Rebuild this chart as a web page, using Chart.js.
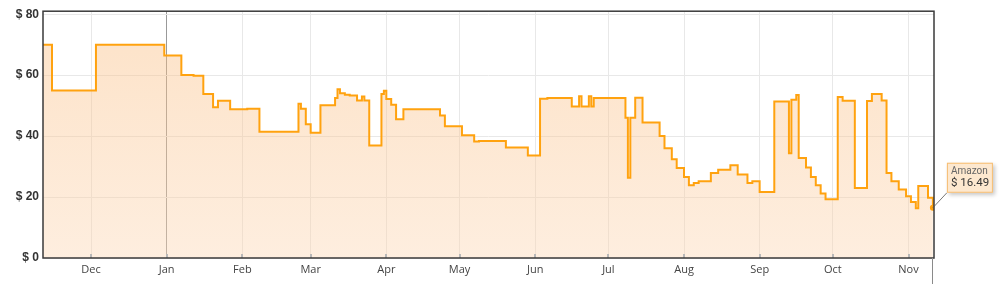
<!DOCTYPE html>
<html>
<head>
<meta charset="utf-8">
<script src="https://cdn.jsdelivr.net/npm/chart.js@4"></script>
<style>
  html, body { margin: 0; padding: 0; background: #fff; overflow: hidden; }
  #wrap { width: 1000px; height: 284px; position: relative; }
</style>
</head>
<body>
<div id="wrap"><canvas id="c"></canvas></div>
<script>
// ---- data ----
const priceDates = [
  '2022-11-11','2022-11-15','2022-12-03','2022-12-31',
  '2023-01-07','2023-01-12','2023-01-16','2023-01-20','2023-01-22','2023-01-27',
  '2023-02-03','2023-02-08','2023-02-24','2023-02-25','2023-02-27',
  '2023-03-01','2023-03-05','2023-03-11','2023-03-12','2023-03-13','2023-03-15','2023-03-17','2023-03-20','2023-03-22','2023-03-23','2023-03-25','2023-03-30','2023-03-31',
  '2023-04-01','2023-04-03','2023-04-05','2023-04-08','2023-04-23','2023-04-25',
  '2023-05-02','2023-05-07','2023-05-09','2023-05-20','2023-05-29',
  '2023-06-03','2023-06-06','2023-06-16','2023-06-19','2023-06-20','2023-06-23','2023-06-24','2023-06-25',
  '2023-07-08','2023-07-09','2023-07-10','2023-07-12','2023-07-15','2023-07-22','2023-07-24','2023-07-27','2023-07-29',
  '2023-08-01','2023-08-03','2023-08-05','2023-08-07','2023-08-12','2023-08-15','2023-08-20','2023-08-23','2023-08-27','2023-08-29',
  '2023-09-01','2023-09-07','2023-09-13','2023-09-14','2023-09-16','2023-09-17','2023-09-20','2023-09-22','2023-09-24','2023-09-26','2023-09-28',
  '2023-10-03','2023-10-05','2023-10-10','2023-10-15','2023-10-17','2023-10-21','2023-10-23','2023-10-25','2023-10-28','2023-10-31',
  '2023-11-02','2023-11-04','2023-11-05','2023-11-09','2023-11-11'
];
const amazonPrices = [
  69.99, 54.99, 69.99, 66.5,
  60.1, 59.8, 53.8, 49.5, 51.6, 48.8,
  49.0, 41.4, 50.6, 49.0, 43.9,
  41.1, 50.1, 52.5, 55.4, 54.1, 53.6, 53.3, 51.7, 53.0, 51.7, 36.9, 53.8, 54.9,
  52.2, 50.3, 45.5, 48.8, 46.8, 43.2,
  40.3, 38.2, 38.4, 36.3, 33.6,
  52.3, 52.5, 49.7, 53.1, 49.7, 53.1, 49.7, 52.5,
  46.0, 26.3, 46.0, 52.6, 44.5, 40.0, 36.0, 32.4, 29.5,
  26.6, 23.9, 24.6, 25.2, 27.9, 29.0, 30.4, 27.4, 24.6, 25.2,
  21.7, 51.4, 34.4, 51.9, 53.5, 32.8, 29.7, 26.6, 23.9, 21.2, 19.3,
  52.8, 51.6, 23.0, 51.5, 53.8, 51.7, 27.9, 25.2, 22.5, 20.3,
  18.4, 16.3, 23.6, 19.8, 16.49
];
const monthTickDates = ['2022-12-01','2023-01-01','2023-02-01','2023-03-01','2023-04-01','2023-05-01',
  '2023-06-01','2023-07-01','2023-08-01','2023-09-01','2023-10-01','2023-11-01'];
const monthTickLabels = ['Dec','Jan','Feb','Mar','Apr','May','Jun','Jul','Aug','Sep','Oct','Nov'];
const yTickValues = [0, 20, 40, 60, 80];
const seriesName = 'Amazon';
const yearStartDate = '2023-01-01';

// ---- helpers ----
const toDay = s => { const [y, m, d] = s.split('-').map(Number); return Date.UTC(y, m - 1, d) / 86400000; };
const monthDays = monthTickDates.map(toDay);
const yearDay = toDay(yearStartDate);
const points = priceDates.map((d, i) => ({ x: toDay(d), y: amazonPrices[i] }));
const lastIdx = points.length - 1;

const framePlugin = {
  id: 'frame',
  afterDatasetsDraw(chart) {
    const { ctx, chartArea: a, scales } = chart;
    ctx.save();
    ctx.strokeStyle = '#b8b8b8';
    ctx.lineWidth = 2;
    monthDays.forEach(v => {
      const x = Math.round(scales.x.getPixelForValue(v));
      ctx.beginPath(); ctx.moveTo(x, a.bottom - 4); ctx.lineTo(x, a.bottom); ctx.stroke();
    });
    ctx.strokeStyle = '#3a3a3a';
    ctx.lineWidth = 1.5;
    ctx.strokeRect(a.left, a.top, a.right - a.left, a.bottom - a.top);
    const pt = chart.getDatasetMeta(0).data[lastIdx];
    ctx.strokeStyle = '#8a8a8a';
    ctx.lineWidth = 1;
    ctx.beginPath(); ctx.moveTo(Math.round(pt.x) - 0.5, a.bottom); ctx.lineTo(Math.round(pt.x) - 0.5, chart.height); ctx.stroke();
    const bx = pt.x + 14, by = pt.y - 45, bw = 46, bh = 30;
    ctx.strokeStyle = '#555';
    ctx.lineWidth = 0.8;
    ctx.beginPath(); ctx.moveTo(pt.x, pt.y); ctx.lineTo(bx, by + bh); ctx.stroke();
    ctx.shadowColor = 'rgba(0,0,0,0.22)';
    ctx.shadowBlur = 4; ctx.shadowOffsetX = 2; ctx.shadowOffsetY = 2;
    ctx.fillStyle = '#fde8cf';
    ctx.fillRect(bx, by, bw, bh);
    ctx.shadowColor = 'transparent';
    ctx.strokeStyle = '#f6bd72';
    ctx.lineWidth = 1;
    ctx.strokeRect(bx + 0.5, by + 0.5, bw - 1, bh - 1);
    ctx.textBaseline = 'middle';
    ctx.textAlign = 'left';
    ctx.fillStyle = '#666';
    ctx.font = '10px Roboto, "DejaVu Sans", sans-serif';
    ctx.fillText(seriesName, bx + 4, by + 8.5);
    ctx.fillStyle = '#333';
    ctx.font = '11.5px Roboto, "DejaVu Sans", sans-serif';
    ctx.fillText('$ ' + amazonPrices[lastIdx].toFixed(2), bx + 4, by + 20.5);
    ctx.restore();
  }
};

new Chart(document.getElementById('c'), {
  type: 'line',
  data: {
    datasets: [{
      label: seriesName,
      data: points,
      stepped: true,
      borderColor: '#ffa20f',
      borderWidth: 2,
      pointRadius: ctx => ctx.dataIndex === lastIdx ? 3 : 0,
      pointBackgroundColor: '#ffa20f',
      pointBorderWidth: 0,
      fill: 'origin',
      backgroundColor: ctx => {
        const { chart } = ctx; const { chartArea } = chart;
        if (!chartArea) return 'rgba(252,210,170,0.4)';
        const g = chart.ctx.createLinearGradient(0, chartArea.top, 0, chartArea.bottom);
        g.addColorStop(0, 'rgba(250,186,122,0.42)');
        g.addColorStop(1, 'rgba(252,214,178,0.42)');
        return g;
      }
    }]
  },
  options: {
    responsive: true,
    maintainAspectRatio: false,
    animation: false,
    devicePixelRatio: 1,
    layout: { padding: { top: 8, right: 66, left: 0, bottom: 0 } },
    plugins: { legend: { display: false }, tooltip: { enabled: false } },
    scales: {
      x: {
        type: 'linear',
        min: toDay('2022-11-11') + 0.3,
        max: toDay('2023-11-11') + 0.45,
        afterBuildTicks: s => { s.ticks = monthDays.map(v => ({ value: v })); },
        afterFit: s => { s.height = 26; },
        ticks: {
          autoSkip: false, maxRotation: 0, padding: 5,
          color: '#444',
          font: { family: '"Open Sans", "DejaVu Sans", sans-serif', size: 11 },
          callback: (v, i) => monthTickLabels[i]
        },
        grid: {
          drawTicks: false,
          color: c => (c.tick && c.tick.value === yearDay) ? '#999999' : '#e8e8e8',
          lineWidth: 1
        },
        border: { display: false }
      },
      y: {
        min: 0, max: 81,
        afterBuildTicks: s => { s.ticks = yTickValues.map(v => ({ value: v })); },
        afterFit: s => { s.width = 43; },
        ticks: {
          padding: 4,
          color: '#333',
          font: { family: '"Liberation Sans", Arial, sans-serif', size: 12, weight: 'bold' },
          callback: v => '$ ' + v
        },
        grid: { drawTicks: false, color: '#e8e8e8', lineWidth: 1 },
        border: { display: false }
      }
    }
  },
  plugins: [framePlugin]
});
</script>
</body>
</html>
